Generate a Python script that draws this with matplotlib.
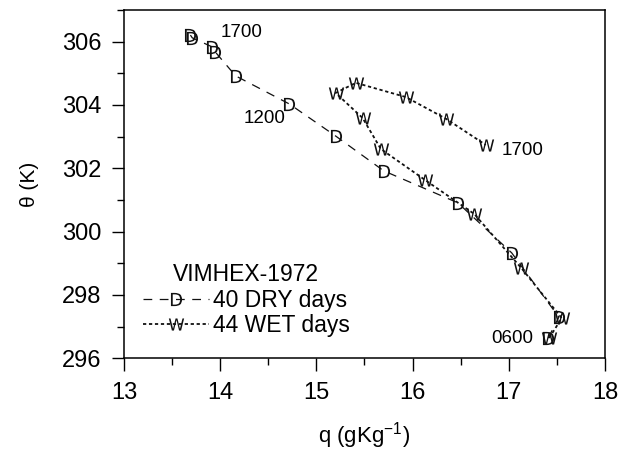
# theta-q diagram, VIMHEX-1972 dry vs wet days (hourly 0600-1700)
import matplotlib
matplotlib.use("Agg")
import matplotlib.pyplot as plt
from matplotlib.ticker import MultipleLocator

plt.rcParams['font.family'] = ['Liberation Sans', 'DejaVu Sans']
plt.rcParams['mathtext.default'] = 'regular'

# ==============================================================================
# Data, hours 0600 .. 1700

hours = ["0600", "0700", "0800", "0900", "1000", "1100",
         "1200", "1300", "1400", "1500", "1600", "1700"]

q_dry = [17.41, 17.52, 17.03, 16.47, 15.70, 15.20,
         14.72, 14.16, 13.95, 13.92, 13.71, 13.69]
th_dry = [296.64, 297.30, 299.33, 300.91, 301.92, 303.02,
          304.03, 304.92, 305.67, 305.83, 306.12, 306.21]

q_wet = [17.42, 17.55, 17.13, 16.64, 16.13, 15.67,
         15.48, 15.20, 15.41, 15.93, 16.35, 16.76]
th_wet = [296.64, 297.27, 298.85, 300.56, 301.63, 302.61,
          303.59, 304.38, 304.70, 304.25, 303.56, 302.74]

# ------------------------------------------------------------------------------

fig = plt.figure(figsize=(6.18, 4.54), dpi=100)
ax = fig.add_axes([0.2006, 0.2108, 0.7784, 0.7672])

ax.plot(q_dry, th_dry, color="#111111", lw=0.9, dashes=(7, 6),
        marker=r"$\mathsf{D}$", ms=9.5, mew=0, label="40 DRY days")
ax.plot(q_wet, th_wet, color="#111111", lw=1.3, dashes=(1.8, 1.5),
        marker=r"$\mathsf{W}$", ms=11, mew=0, label="44 WET days")

# time labels
ax.text(14.0, 306.3, "1700", fontsize=13.5, ha="left", va="center")
ax.text(14.24, 303.56, "1200", fontsize=13.5, ha="left", va="center")
ax.text(16.93, 302.56, "1700", fontsize=13.5, ha="left", va="center")
ax.text(17.25, 296.62, "0600", fontsize=13.5, ha="right", va="center")

ax.set_xlim(13, 18)
ax.set_ylim(296, 307)
ax.xaxis.set_major_locator(MultipleLocator(1))
ax.xaxis.set_minor_locator(MultipleLocator(0.5))
ax.yaxis.set_major_locator(MultipleLocator(2))
ax.yaxis.set_minor_locator(MultipleLocator(1))
ax.tick_params(which="major", direction="out", length=9, width=1, labelsize=17)
ax.tick_params(which="minor", direction="out", length=5, width=1)
ax.tick_params(axis="x", pad=8)
ax.tick_params(axis="y", pad=7)
for sp in ax.spines.values():
  sp.set_linewidth(1.1)

ax.set_xlabel("q (gKg$^{-1}$)", fontsize=16, labelpad=12)
ax.set_ylabel("θ (K)", fontsize=15, labelpad=17)

leg = ax.legend(title="VIMHEX-1972", loc="lower left", frameon=False,
                fontsize=16.5, title_fontsize=16.5, handlelength=2.9,
                handletextpad=0.15, labelspacing=0.1, borderaxespad=0,
                bbox_to_anchor=(0.02, 0.035))

plt.savefig("out.png", dpi=100)
